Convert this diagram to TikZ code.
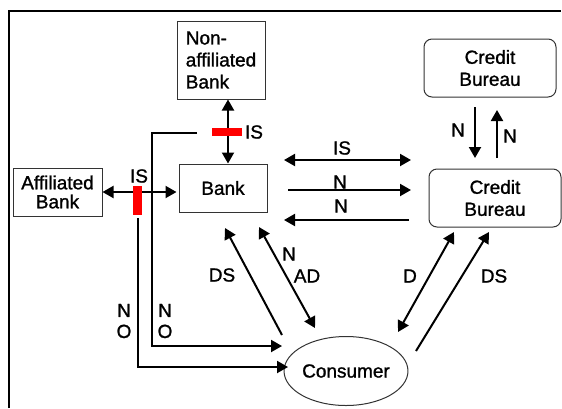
\documentclass[tikz,border=0pt]{standalone}
\usepackage{fontspec}
\setmainfont{Liberation Sans}
\newfontface\heavyfont{Liberation Sans}[FakeBold=1.2]
\usetikzlibrary{arrows.meta,shapes.geometric,calc}
\begin{document}
\begin{tikzpicture}[x=1pt,y=-1pt,
  >={Triangle[length=11pt,width=12pt]},
  txt/.style={font=\heavyfont\fontsize{19}{22}\selectfont},
  box/.style={draw=black!80,line width=1pt,inner sep=0pt,align=center,txt},
  rbox/.style={box,rounded corners=8pt},
  lbl/.style={txt,inner sep=0pt,align=center},
  link/.style={line width=2pt},
  frame/.style={line width=2.5pt},
  redbar/.style={fill=red}]
\useasboundingbox (0,0) rectangle (562,408);
% frame
\draw[frame] (9,408) -- (9,11) -- (561,11);
% nodes
\node[box,align=left,minimum width=88pt,minimum height=78pt] (nab) at (221,60) {Non-\\affiliated\\Bank};
\node[box,minimum width=88pt,minimum height=48pt] (bank) at (223,188) {Bank};
\node[box,minimum width=89pt,minimum height=48pt,font=\heavyfont\fontsize{19}{19}\selectfont] (ab) at (57.5,192) {Affiliated\\Bank};
\node[rbox,minimum width=132pt,minimum height=58pt] (cb1) at (490,68) {Credit\\Bureau};
\node[rbox,minimum width=132pt,minimum height=58pt] (cb2) at (495,198) {Credit\\Bureau};
\node[draw=black!80,line width=1pt,ellipse,minimum width=117pt,minimum height=69pt,inner sep=0pt,txt] (cons) at (346,371) {Consumer};
% coordinates
\coordinate (ax) at (228,0);
\coordinate (no1s) at (197,133);
\coordinate (no1a) at (152,133);
\coordinate (no1b) at (152,346);
\coordinate (no1e) at (282,346);
\coordinate (no2s) at (138,218);
\coordinate (no2b) at (138,367);
\coordinate (no2e) at (288,367);
\coordinate (h1a) at (284,160); \coordinate (h1b) at (411,160);
\coordinate (h2a) at (288,190); \coordinate (h2b) at (411,190);
\coordinate (h3a) at (409,220); \coordinate (h3b) at (284,220);
\coordinate (v1a) at (475,107); \coordinate (v1b) at (475,158);
\coordinate (v2a) at (497,158); \coordinate (v2b) at (497,110);
\coordinate (d1a) at (282,335); \coordinate (d1b) at (225,228);
\coordinate (d2a) at (259,227); \coordinate (d2b) at (315,328);
\coordinate (d3a) at (398,332); \coordinate (d3b) at (454,232);
\coordinate (d4a) at (416,351); \coordinate (d4b) at (489,232);
% connectors
\draw[link,<->] (ax |- nab.south) -- (ax |- bank.north);
\draw[link,<->] (ab.east) -- ([xshift=-2pt]ab.east -| bank.west);
\draw[link,->] (no1s) -- (no1a) -- (no1b) -- (no1e);
\draw[link,->] (no2s) -- (no2b) -- (no2e);
\draw[link,<->] (h1a) -- (h1b);
\draw[link,->] (h2a) -- (h2b);
\draw[link,->] (h3a) -- (h3b);
\draw[link,->] (v1a) -- (v1b);
\draw[link,->] (v2a) -- (v2b);
\draw[link,->] (d1a) -- (d1b);
\draw[link,<->] (d2a) -- (d2b);
\draw[link,<->] (d3a) -- (d3b);
\draw[link,->] (d4a) -- (d4b);
% red bars
\fill[redbar] (212,128) rectangle (242,136);
\fill[redbar] (133,186) rectangle (142,215);
% labels
\node[lbl] (lis1) at (254,132) {IS};
\node[lbl] (lis2) at (139,176) {IS};
\node[lbl,font=\heavyfont\fontsize{19}{21}\selectfont] (lno1) at (124,321) {N\\O};
\node[lbl,font=\heavyfont\fontsize{19}{21}\selectfont] (lno2) at (165,321) {N\\O};
\node[lbl] (lis3) at (342,148) {IS};
\node[lbl] (ln1) at (340,182) {N};
\node[lbl] (ln2) at (341,206) {N};
\node[lbl] (ln3) at (458,130) {N};
\node[lbl] (ln4) at (510,136) {N};
\node[lbl] (lds1) at (222,275) {DS};
\node[lbl] (ln5) at (289,254) {N};
\node[lbl] (lad) at (307,276) {AD};
\node[lbl] (ld) at (410,276) {D};
\node[lbl] (lds2) at (494,276) {DS};
\end{tikzpicture}
\end{document}
